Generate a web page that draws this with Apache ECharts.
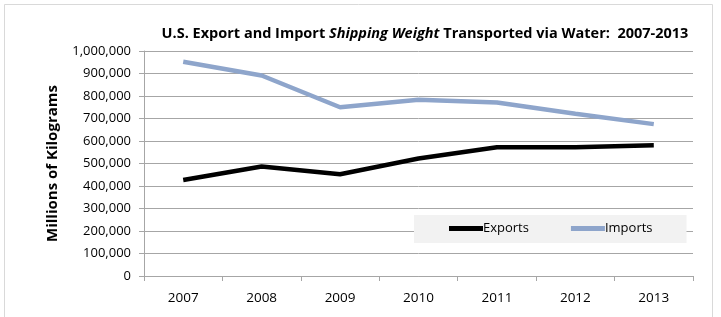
<!DOCTYPE html>
<html><head><meta charset="utf-8">
<script src="https://cdn.jsdelivr.net/npm/echarts@6/dist/echarts.min.js"></script>
<style>html,body{margin:0;padding:0;background:#fff}#c{width:721px;height:317px}</style>
</head><body><div id="c"></div>
<script>
const years = ['2007','2008','2009','2010','2011','2012','2013'];
const exportsData = [427000, 487000, 452000, 522000, 572000, 572000, 581000];
const importsData = [952000, 891000, 750000, 783000, 771000, 721000, 675000];
const yTicks = [0,100000,200000,300000,400000,500000,600000,700000,800000,900000,1000000];

const chart = echarts.init(document.getElementById('c'), null, {renderer:'canvas'});
const font = '"Open Sans", "Liberation Sans", sans-serif';
chart.setOption({
  animation:false,
  backgroundColor:'#fff',
  graphic:[{type:'rect', shape:{x:4.5,y:4.5,width:708,height:330}, style:{fill:'none', stroke:'#d9d9d9', lineWidth:1}, silent:true}],
  title:{text:'U.S. Export and Import {i|Shipping Weight} Transported via Water:  2007-2013',
    left:420, top:21, textAlign:'center',
    textStyle:{fontFamily:font, fontSize:14.5, fontWeight:'bold', color:'#000',
      rich:{i:{fontFamily:font, fontSize:14.5, fontWeight:'bold', fontStyle:'italic', color:'#000'}}}},
  grid:{left:144, right:28, top:51, bottom:41},
  legend:{data:['Exports','Imports'], left:414, top:215,
    backgroundColor:'#f2f2f2', padding:[7,34,8,35], itemGap:42, itemWidth:34, itemHeight:5,
    icon:'rect',
    textStyle:{fontFamily:font, fontSize:13, color:'#000', padding:[0,0,0,-5]}},
  xAxis:{type:'category', data:years, boundaryGap:true,
    axisLine:{lineStyle:{color:'#a6a6a6'}},
    axisTick:{show:true, length:5, lineStyle:{color:'#a6a6a6'}},
    axisLabel:{fontFamily:font, fontSize:13.5, color:'#000', margin:15}},
  yAxis:{type:'value', min:0, max:1000000, interval:100000,
    name:'Millions of Kilograms', nameLocation:'middle', nameGap:84,
    nameTextStyle:{fontFamily:font, fontSize:15, fontWeight:'bold', color:'#000'},
    axisLine:{show:true, lineStyle:{color:'#a6a6a6'}},
    axisTick:{show:true, length:5, lineStyle:{color:'#a6a6a6'}},
    splitLine:{lineStyle:{color:'#a6a6a6'}},
    axisLabel:{fontFamily:font, fontSize:13, color:'#000', margin:13,
      formatter:v=>v.toLocaleString('en-US')}},
  series:[
    {name:'Exports', type:'line', data:exportsData, showSymbol:false, symbol:'none',
      lineStyle:{color:'#000', width:4.5}, itemStyle:{color:'#000'}},
    {name:'Imports', type:'line', data:importsData, showSymbol:false, symbol:'none',
      lineStyle:{color:'#8ea5cb', width:4.5}, itemStyle:{color:'#8ea5cb'}}
  ]
});
</script></body></html>
